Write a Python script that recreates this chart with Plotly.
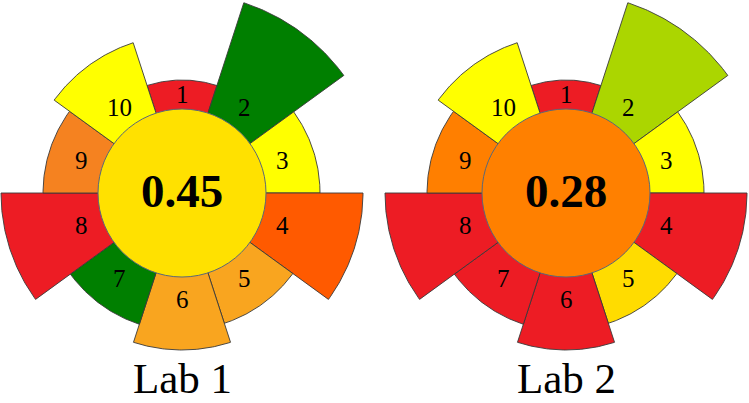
import numpy as np
import plotly.graph_objects as go

# ---- data ----
criteria = ["1", "2", "3", "4", "5", "6", "7", "8", "9", "10"]
# outer radius of each segment (chart units, inner disc radius = 84)
segment_radius = [113, 200, 138, 181, 137, 157, 138, 181, 139, 158]
inner_radius = 84
lab_names = ["Lab 1", "Lab 2"]
lab_scores = ["0.45", "0.28"]
lab1_colors = ["#ED1C24", "#007F00", "#FFFF00", "#FF5A00", "#F9A51F",
               "#F9A51F", "#007F00", "#ED1C24", "#F58220", "#FFFF00"]
lab2_colors = ["#ED1C24", "#ABD600", "#FFFF00", "#ED1C24", "#FFDC00",
               "#ED1C24", "#ED1C24", "#ED1C24", "#FF7F00", "#FFFF00"]
score_colors = ["#FFE100", "#FF8000"]

W, H = 749, 403
centers = [(182, 210), (566, 210)]
SERIF = "Liberation Serif, Times New Roman, serif"

fig = go.Figure()
shapes = []
annotations = []
n = len(criteria)
step = 360.0 / n

for lab_i, (cx, cy) in enumerate(centers):
    colors = [lab1_colors, lab2_colors][lab_i]
    for k in range(n):
        r = segment_radius[k]
        a = np.radians(np.linspace(k * step - step / 2, k * step + step / 2, 60))
        xs = np.concatenate([[cx], cx + r * np.sin(a), [cx]])
        ys = np.concatenate([[cy], cy + r * np.cos(a), [cy]])
        fig.add_trace(go.Scatter(
            x=xs, y=ys, mode="lines", fill="toself",
            fillcolor=colors[k], line=dict(color="#3a3a3a", width=0.9),
            hoverinfo="skip", showlegend=False))
        # label position
        rl = min(106, (inner_radius + r) / 2)
        am = np.radians(k * step)
        annotations.append(dict(
            x=cx + rl * np.sin(am), y=cy + rl * np.cos(am),
            text=criteria[k], showarrow=False, xref="x", yref="y",
            font=dict(family=SERIF, size=25, color="black")))
    shapes.append(dict(
        type="circle", xref="x", yref="y",
        x0=cx - inner_radius, x1=cx + inner_radius,
        y0=cy - inner_radius, y1=cy + inner_radius,
        fillcolor=score_colors[lab_i],
        line=dict(color="#5a6878", width=1), layer="above"))
    annotations.append(dict(
        x=cx, y=cy + 2, text="<b>%s</b>" % lab_scores[lab_i], showarrow=False,
        xref="x", yref="y",
        font=dict(family=SERIF, size=47, color="black")))
    annotations.append(dict(
        x=cx, y=0, yanchor="bottom", text=lab_names[lab_i], showarrow=False,
        xref="x", yref="y", borderpad=0,
        font=dict(family=SERIF, size=43, color="black")))

fig.update_layout(
    width=W, height=H,
    margin=dict(l=0, r=0, t=0, b=0),
    paper_bgcolor="white", plot_bgcolor="white",
    xaxis=dict(range=[0, W], visible=False, fixedrange=True),
    yaxis=dict(range=[0, H], visible=False, fixedrange=True),
    shapes=shapes, annotations=annotations, showlegend=False)

fig.write_html("out.html")
